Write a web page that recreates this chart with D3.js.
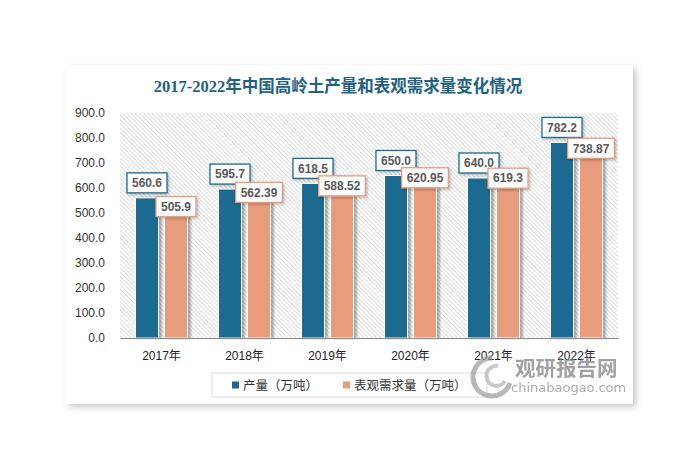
<!DOCTYPE html>
<html>
<head>
<meta charset="utf-8">
<script src="https://cdn.jsdelivr.net/npm/d3@7"></script>
<style>
html,body{margin:0;padding:0;background:#fff;}
svg{display:block;}
</style>
</head>
<body>
<svg id="chart" width="694" height="462"></svg>
<script>
const years = ["2017年","2018年","2019年","2020年","2021年","2022年"];
const production = [560.6, 595.7, 618.5, 650.0, 640.0, 782.2];
const productionLabels = ["560.6","595.7","618.5","650.0","640.0","782.2"];
const demand = [505.9, 562.39, 588.52, 620.95, 619.3, 738.87];
const demandLabels = ["505.9","562.39","588.52","620.95","619.3","738.87"];
const yTicks = [0,100,200,300,400,500,600,700,800,900];
const seriesNames = ["产量（万吨）","表观需求量（万吨）"];
const titleText = "2017-2022年中国高岭土产量和表观需求量变化情况";

const colBlue = "#1c6b8f", colSalmon = "#e89c7c";
const svg = d3.select("#chart");
const defs = svg.append("defs");

const cardShadow = defs.append("filter").attr("id","cardShadow").attr("x","-5%").attr("y","-5%").attr("width","115%").attr("height","120%");
cardShadow.append("feDropShadow").attr("dx",3).attr("dy",3).attr("stdDeviation",3).attr("flood-color","#000").attr("flood-opacity",0.22);

const barShadow = defs.append("filter").attr("id","barShadow").attr("x","-20%").attr("y","-5%").attr("width","160%").attr("height","110%");
barShadow.append("feDropShadow").attr("dx",3).attr("dy",0).attr("stdDeviation",1).attr("flood-color","#000").attr("flood-opacity",0.3);

const boxShadow = defs.append("filter").attr("id","boxShadow").attr("x","-20%").attr("y","-20%").attr("width","150%").attr("height","160%");
boxShadow.append("feDropShadow").attr("dx",1.5).attr("dy",1.5).attr("stdDeviation",1).attr("flood-color","#000").attr("flood-opacity",0.25);

const pat = defs.append("pattern").attr("id","hatch").attr("patternUnits","userSpaceOnUse")
  .attr("width",3).attr("height",3).attr("patternTransform","rotate(-45)");
pat.append("rect").attr("width",3).attr("height",3).attr("fill","#fff");
pat.append("line").attr("x1",0.5).attr("y1",0).attr("x2",0.5).attr("y2",3).attr("stroke","#dcdcdc").attr("stroke-width",1);

// card
svg.append("rect").attr("x",66).attr("y",65).attr("width",567).attr("height",339)
  .attr("fill","#fff").attr("filter","url(#cardShadow)");

// title
svg.append("text").attr("x",338).attr("y",92).attr("text-anchor","middle")
  .attr("font-family","'Liberation Serif','Noto Sans CJK SC',serif").attr("font-weight","bold")
  .attr("font-size",16.5).attr("fill","#1f6282").text(titleText);

const plotL = 120, plotR = 618, plotT = 113, plotB = 338;
const x = d3.scaleBand().domain(years).range([plotL, plotR]).padding(0);
const y = d3.scaleLinear().domain([0, 900]).range([plotB, plotT]);

svg.append("rect").attr("x",plotL).attr("y",plotT).attr("width",plotR-plotL).attr("height",plotB-plotT)
  .attr("fill","url(#hatch)");

// y axis labels
const yAxis = d3.axisLeft(y).tickValues(yTicks).tickFormat(d3.format(".1f")).tickSize(0).tickPadding(0);
const gy = svg.append("g").attr("transform","translate(105,0)").call(yAxis);
gy.select(".domain").remove();
gy.selectAll("text").attr("font-family","'Liberation Sans',Arial,sans-serif").attr("font-size",12).attr("fill","#333");

const barW = 23;
const offBlue = -26, offSalmon = 3;

const gBars = svg.append("g");
gBars.selectAll("rect.p").data(production).join("rect").attr("class","p")
  .attr("x",(d,i)=>x(years[i])+x.bandwidth()/2+offBlue).attr("width",barW)
  .attr("y",d=>y(d)).attr("height",d=>plotB-y(d))
  .attr("fill",colBlue).attr("stroke","#fff").attr("stroke-width",1).attr("filter","url(#barShadow)");
gBars.selectAll("rect.d").data(demand).join("rect").attr("class","d")
  .attr("x",(d,i)=>x(years[i])+x.bandwidth()/2+offSalmon).attr("width",barW)
  .attr("y",d=>y(d)).attr("height",d=>plotB-y(d))
  .attr("fill",colSalmon).attr("stroke","#fff").attr("stroke-width",1).attr("filter","url(#barShadow)");

// x axis
const xAxis = d3.axisBottom(x).tickSize(0).tickPadding(0);
const gx = svg.append("g").attr("transform",`translate(0,${plotB})`).call(xAxis);
gx.select(".domain").attr("stroke","#8a8a8a").attr("stroke-width",1.2);
gx.selectAll("text").attr("dy",0).attr("y",22).attr("font-family","'Liberation Sans','Noto Sans CJK SC',sans-serif")
  .attr("font-size",12).attr("fill","#222");

// data labels
function drawLabels(vals, labels, off, color, lift) {
  vals.forEach((v,i)=>{
    const cx = x(years[i]) + x.bandwidth()/2 + off + barW/2;
    const cy = y(v) - lift;
    const g = svg.append("g");
    const r = g.append("rect");
    const t = g.append("text").attr("x",cx).attr("y",cy+4.3).attr("text-anchor","middle")
      .attr("font-family","'Liberation Sans',Arial,sans-serif").attr("font-weight","bold")
      .attr("font-size",12).attr("fill","#595959").text(labels[i]);
    const w = t.node().getComputedTextLength() + 10;
    r.attr("x",cx-w/2).attr("y",cy-10).attr("width",w).attr("height",20)
      .attr("fill","#fff").attr("stroke",color).attr("stroke-width",1.3).attr("filter","url(#boxShadow)");
  });
}
drawLabels(production, productionLabels, offBlue, colBlue, 15);
drawLabels(demand, demandLabels, offSalmon, colSalmon, 5);

// legend
svg.append("rect").attr("x",212).attr("y",373).attr("width",275).attr("height",24)
  .attr("fill","#fff").attr("stroke","#d9d9d9").attr("stroke-width",1);
const legItems = [{n:seriesNames[0],c:colBlue,x:232},{n:seriesNames[1],c:colSalmon,x:343}];
legItems.forEach(it=>{
  svg.append("rect").attr("x",it.x).attr("y",381.5).attr("width",7).attr("height",7).attr("fill",it.c);
  svg.append("text").attr("x",it.x+11).attr("y",389.5).attr("font-family","'Noto Sans CJK SC',sans-serif")
    .attr("font-size",12.5).attr("fill","#333").text(it.n);
});

// watermark
const wm = svg.append("g").attr("opacity",0.7);
wm.append("path").attr("d","M492,358 A19,19 0 1,0 510,383").attr("fill","none").attr("stroke","#9a9a9a").attr("stroke-width",5);
wm.append("path").attr("d","M498,366 A10,10 0 1,0 505,381").attr("fill","none").attr("stroke","#b5b5b5").attr("stroke-width",4);
wm.append("text").attr("x",515).attr("y",376).attr("font-family","'Noto Sans CJK SC',sans-serif").attr("font-weight","bold")
  .attr("font-size",20.5).attr("fill","#7a7a7a").text("观研报告网");
wm.append("text").attr("x",511).attr("y",392).attr("font-family","'DejaVu Sans',sans-serif")
  .attr("font-size",13).attr("fill","#8a8a8a").text("chinabaogao.com");
</script>
</body>
</html>
